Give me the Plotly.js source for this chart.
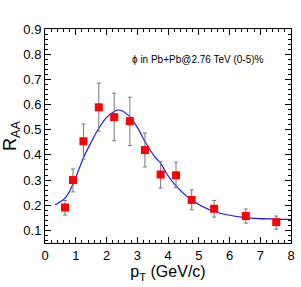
<!DOCTYPE html>
<html>
<head>
<meta charset="utf-8">
<script src="https://cdn.plot.ly/plotly-3.0.1.min.js"></script>
<style>html,body{margin:0;padding:0;background:#fff;}#chart{width:301px;height:287px;}</style>
</head>
<body>
<div id="chart"></div>
<script>
// Data points
const ptData = [0.65, 0.91, 1.25, 1.75, 2.25, 2.76, 3.25, 3.76, 4.26, 4.77, 5.5, 6.53, 7.52];
const raaData = [0.191, 0.300, 0.454, 0.589, 0.550, 0.534, 0.419, 0.322, 0.319, 0.221, 0.186, 0.157, 0.133];
const errUp = [0.028, 0.044, 0.069, 0.096, 0.095, 0.095, 0.068, 0.051, 0.052, 0.040, 0.033, 0.028, 0.024];
const errDown = [0.030, 0.047, 0.071, 0.095, 0.094, 0.097, 0.067, 0.054, 0.049, 0.039, 0.033, 0.028, 0.028];
// Fit curve
const fitX = [0.33, 0.65, 0.9, 1.25, 1.5, 1.75, 2.0, 2.25, 2.35, 2.5, 2.75, 3.0, 3.25, 3.58, 3.76, 3.95, 4.23, 4.77, 5.5, 6.5, 7.5, 8.0];
const fitY = [0.202, 0.228, 0.281, 0.388, 0.45, 0.506, 0.548, 0.572, 0.578, 0.575, 0.553, 0.51, 0.453, 0.391, 0.367, 0.327, 0.281, 0.221, 0.175, 0.151, 0.145, 0.144];
const xTicks = [0,1,2,3,4,5,6,7,8];
const yTicks = [0.1,0.2,0.3,0.4,0.5,0.6,0.7,0.8,0.9];
const noteText = "ϕ in Pb+Pb@2.76 TeV (0-5)%";

const font = "Liberation Sans, Arial, sans-serif";
const traces = [
  {x: fitX, y: fitY, mode: 'lines', line: {color: '#1a1aff', width: 1.2, shape: 'spline', smoothing: 1}, hoverinfo: 'skip'},
  {x: ptData, y: raaData, mode: 'markers', type: 'scatter',
   marker: {symbol: 'square', size: 8, color: '#ff0000'},
   error_y: {type: 'data', symmetric: false, array: errUp, arrayminus: errDown, color: '#777777', thickness: 1, width: 2}}
];
const axBase = {showgrid: false, zeroline: false, ticks: 'inside', mirror: 'allticks', showline: true, linecolor: '#000', linewidth: 1, tickcolor: '#000', tickfont: {family: font, size: 13, color: '#000'}};
const layout = {
  width: 301, height: 287,
  margin: {l: 45, r: 10, t: 29, b: 44},
  showlegend: false,
  paper_bgcolor: '#fff', plot_bgcolor: '#fff',
  xaxis: Object.assign({}, axBase, {range: [0, 8], tickvals: xTicks, ticktext: xTicks.map(String), ticklen: 6,
    minor: {dtick: 0.2, ticklen: 3, ticks: 'inside', tickcolor: '#000'},
    title: {text: 'p<sub>T</sub> (GeV/c)', font: {family: font, size: 16, color: '#000'}, standoff: 4}}),
  yaxis: Object.assign({}, axBase, {range: [0.05, 0.9], tickvals: yTicks, ticktext: yTicks.map(v => v.toFixed(1)), ticklen: 6,
    minor: {dtick: 0.02, ticklen: 3, ticks: 'inside', tickcolor: '#000'},
    title: {text: 'R<sub>AA</sub>', font: {family: font, size: 18, color: '#000'}, standoff: 6}}),
  annotations: [{x: 4.99, y: 0.78, xref: 'x', yref: 'y', text: noteText, showarrow: false, font: {family: font, size: 10, color: '#000'}}]
};
Plotly.newPlot('chart', traces, layout, {staticPlot: true, displayModeBar: false});
</script>
</body>
</html>
